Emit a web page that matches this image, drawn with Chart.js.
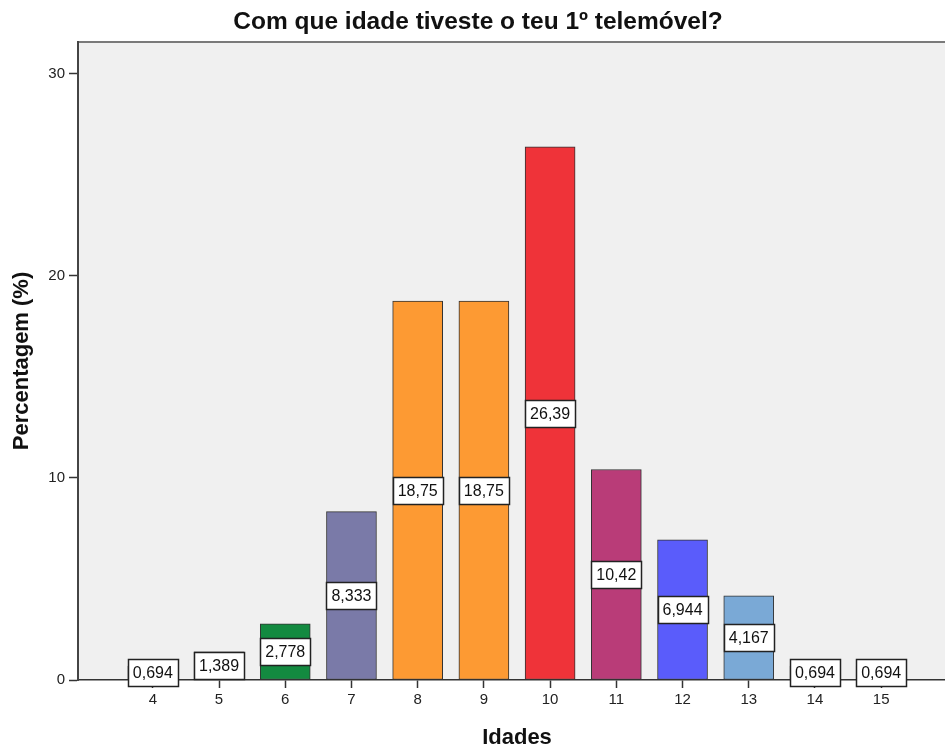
<!DOCTYPE html>
<html>
<head>
<meta charset="utf-8">
<script src="https://cdn.jsdelivr.net/npm/chart.js@4/dist/chart.umd.min.js"></script>
<style>
  html, body { margin: 0; padding: 0; background: #fff; overflow: hidden; }
  #wrap { width: 945px; height: 749px; overflow: hidden; }
</style>
</head>
<body>
<div id="wrap"><canvas id="idadeChart" width="960" height="749"></canvas></div>
<script>
// Data
const ages = [4, 5, 6, 7, 8, 9, 10, 11, 12, 13, 14, 15];
const percentages = [0.694, 1.389, 2.778, 8.333, 18.75, 18.75, 26.39, 10.42, 6.944, 4.167, 0.694, 0.694];
const barColors = ['#3e58ac', '#2a8c4a', '#138a40', '#7a7aa8', '#fd9a33', '#fd9a33',
                   '#ef3339', '#b93c78', '#5a5cfb', '#7aa9d6', '#0a562c', '#ddbad8'];
const yTicks = [0, 10, 20, 30];

function formatPct(v) {
  let s = v >= 10 ? v.toFixed(2) : v.toFixed(3);
  return s.replace('.', ',');
}

// grey plot background + top frame line
const plotBackground = {
  id: 'plotBackground',
  beforeDraw(chart) {
    const { ctx, chartArea } = chart;
    ctx.save();
    ctx.fillStyle = '#f0f0f0';
    ctx.fillRect(chartArea.left, chartArea.top, chartArea.right - chartArea.left, chartArea.bottom - chartArea.top);
    ctx.strokeStyle = '#7a7a7a';
    ctx.lineWidth = 2;
    ctx.beginPath();
    ctx.moveTo(chartArea.left, chartArea.top);
    ctx.lineTo(chartArea.right, chartArea.top);
    ctx.stroke();
    ctx.restore();
  }
};

// white boxed value labels in the middle of each bar
const boxLabels = {
  id: 'boxLabels',
  afterDatasetsDraw(chart) {
    const ctx = chart.ctx;
    const meta = chart.getDatasetMeta(0);
    ctx.save();
    ctx.font = '16px "Liberation Sans", Arial, sans-serif';
    ctx.textAlign = 'center';
    ctx.textBaseline = 'middle';
    meta.data.forEach((bar, i) => {
      const w = bar.width;
      const h = 27;
      const cy = (bar.y + bar.base) / 2;
      const x0 = Math.round(bar.x - w / 2) + 0.5;
      const y0 = Math.round(cy - h / 2) + 0.5;
      ctx.fillStyle = '#ffffff';
      ctx.fillRect(x0, y0, w, h);
      ctx.strokeStyle = '#222';
      ctx.lineWidth = 1.5;
      ctx.strokeRect(x0, y0, w, h);
      ctx.fillStyle = '#111';
      ctx.fillText(formatPct(percentages[i]), bar.x, cy + 1);
    });
    ctx.restore();
  }
};

const ctx = document.getElementById('idadeChart').getContext('2d');
new Chart(ctx, {
  type: 'bar',
  data: {
    datasets: [{
      data: ages.map((a, i) => ({ x: a, y: percentages[i] })),
      backgroundColor: barColors,
      borderColor: '#333',
      borderWidth: 1,
      borderSkipped: false,
      barThickness: 50
    }]
  },
  plugins: [plotBackground, boxLabels],
  options: {
    responsive: false,
    animation: false,
    layout: { padding: { left: 0, right: 4, top: 0, bottom: 0 } },
    plugins: {
      legend: { display: false },
      tooltip: { enabled: false },
      title: {
        display: true,
        text: 'Com que idade tiveste o teu 1º telemóvel?',
        color: '#111',
        font: { family: '"Liberation Sans", Arial, sans-serif', size: 24.5, weight: 'bold', lineHeight: 1.2 },
        padding: { top: 8, bottom: 4.6 }
      }
    },
    scales: {
      x: {
        type: 'linear',
        min: 2.87,
        max: 16.13,
        offset: false,
        afterBuildTicks: (scale) => { scale.ticks = ages.map(v => ({ value: v })); },
        afterFit: (scale) => { scale.height = 69; },
        grid: { drawOnChartArea: false, drawTicks: true, tickLength: 8, tickWidth: 1.5, color: '#333', offset: false },
        border: { display: true, color: '#333', width: 1.5 },
        ticks: {
          color: '#222',
          padding: 3,
          maxRotation: 0,
          autoSkip: false,
          font: { family: '"Liberation Sans", Arial, sans-serif', size: 15 }
        },
        title: {
          display: true,
          text: 'Idades',
          color: '#111',
          padding: { top: 0, bottom: 0 },
          font: { family: '"Liberation Sans", Arial, sans-serif', size: 22, weight: 'bold', lineHeight: 1 }
        }
      },
      y: {
        min: 0,
        max: 31.58,
        afterBuildTicks: (scale) => { scale.ticks = yTicks.map(v => ({ value: v })); },
        afterFit: (scale) => { scale.width = 78; },
        grid: { drawOnChartArea: false, drawTicks: true, tickLength: 9, tickWidth: 1.5, color: '#333' },
        border: { display: true, color: '#444', width: 2 },
        ticks: {
          color: '#222',
          padding: 4,
          font: { family: '"Liberation Sans", Arial, sans-serif', size: 15 }
        },
        title: {
          display: true,
          text: 'Percentagem (%)',
          color: '#111',
          padding: { top: 11, bottom: 0 },
          font: { family: '"Liberation Sans", Arial, sans-serif', size: 22, weight: 'bold', lineHeight: 1 }
        }
      }
    }
  }
});
</script>
</body>
</html>
